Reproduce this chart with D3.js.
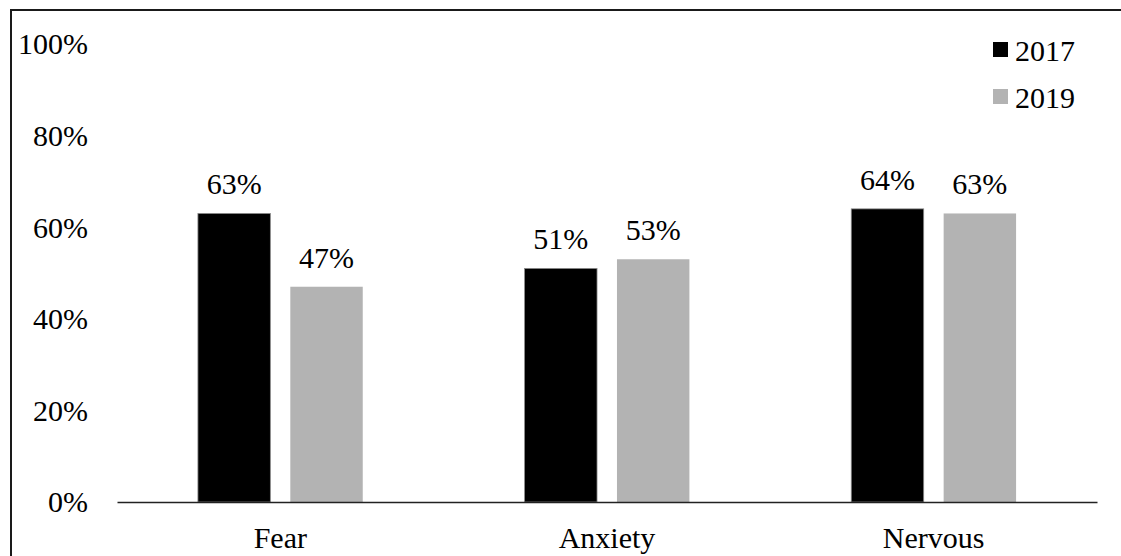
<!DOCTYPE html>
<html>
<head>
<meta charset="utf-8">
<script src="https://cdn.jsdelivr.net/npm/d3@7"></script>
<style>
  html, body { margin: 0; padding: 0; background: #fff; }
  svg { display: block; }
  svg text { font-family: 'Liberation Serif', 'Times New Roman', Tinos, 'DejaVu Serif', serif !important; }
</style>
</head>
<body>
<svg id="chart" width="1121" height="556"></svg>
<script>
// Survey results: share of respondents reporting each feeling
const categories = ["Fear", "Anxiety", "Nervous"];
const years = ["2017", "2019"];
const values2017 = [0.63, 0.51, 0.64];
const values2019 = [0.47, 0.53, 0.63];
const yTicks = [0, 0.2, 0.4, 0.6, 0.8, 1.0];
const colors = ["#000000", "#b3b3b3"];

const series = [values2017, values2019];

const svg = d3.select("#chart");
const plot = { left: 117, right: 1097, top: 44, bottom: 502 };

// outer frame (runs off the right and bottom edges)
svg.append("rect")
  .attr("x", 11).attr("y", 10)
  .attr("width", 1200).attr("height", 600)
  .attr("fill", "none").attr("stroke", "#1a1a1a").attr("stroke-width", 2);

const x0 = d3.scaleBand().domain(categories).range([plot.left, plot.right]).padding(0);
const x1 = d3.scaleBand().domain(years).range([0, x0.bandwidth()])
  .paddingInner(0.216).paddingOuter(0.876);
const y = d3.scaleLinear().domain([0, 1]).range([plot.bottom, plot.top]);

// y-axis labels
const yAxis = d3.axisLeft(y).tickValues(yTicks).tickFormat(d3.format(".0%")).tickSize(0).tickPadding(0);
const gy = svg.append("g").attr("transform", "translate(88,0)").call(yAxis);
gy.select(".domain").remove();
gy.selectAll("text")
  .attr("font-size", 30).attr("fill", "#000").attr("dy", "0.33em");

// bars
const groups = svg.append("g").selectAll("g")
  .data(categories)
  .join("g")
  .attr("transform", d => `translate(${x0(d)},0)`);

groups.selectAll("rect")
  .data((c, i) => years.map((yr, k) => ({ yr, k, v: series[k][i] })))
  .join("rect")
  .attr("x", d => x1(d.yr))
  .attr("y", d => y(d.v))
  .attr("width", x1.bandwidth())
  .attr("height", d => y(0) - y(d.v))
  .attr("fill", d => colors[d.k])
  .attr("stroke", d => d.k === 0 ? "#8a8a8a" : "none")
  .attr("stroke-width", 0.8);

// value labels
groups.selectAll("text.val")
  .data((c, i) => years.map((yr, k) => ({ yr, k, v: series[k][i] })))
  .join("text")
  .attr("class", "val")
  .attr("x", d => x1(d.yr) + x1.bandwidth() / 2)
  .attr("y", d => y(d.v) - 19)
  .attr("text-anchor", "middle")
  .attr("font-size", 30)
  .attr("fill", "#000")
  .text(d => d3.format(".0%")(d.v));

// x axis baseline and category labels
const xAxis = d3.axisBottom(x0).tickSize(0).tickPadding(0);
const gx = svg.append("g").attr("transform", `translate(0,${plot.bottom})`).call(xAxis);
gx.select(".domain").attr("stroke", "#222").attr("stroke-width", 1.6);
gx.selectAll("text")
  .attr("font-size", 30).attr("fill", "#000")
  .attr("dy", null).attr("y", 46);

// legend
const legend = svg.append("g").attr("transform", "translate(993,42)");
years.forEach((yr, k) => {
  const g = legend.append("g").attr("transform", `translate(0,${k * 47})`);
  g.append("rect").attr("width", 15).attr("height", 15).attr("fill", colors[k]);
  g.append("text").attr("x", 22).attr("y", 19)
    .attr("font-size", 30).attr("fill", "#000").text(yr);
});
</script>
</body>
</html>
